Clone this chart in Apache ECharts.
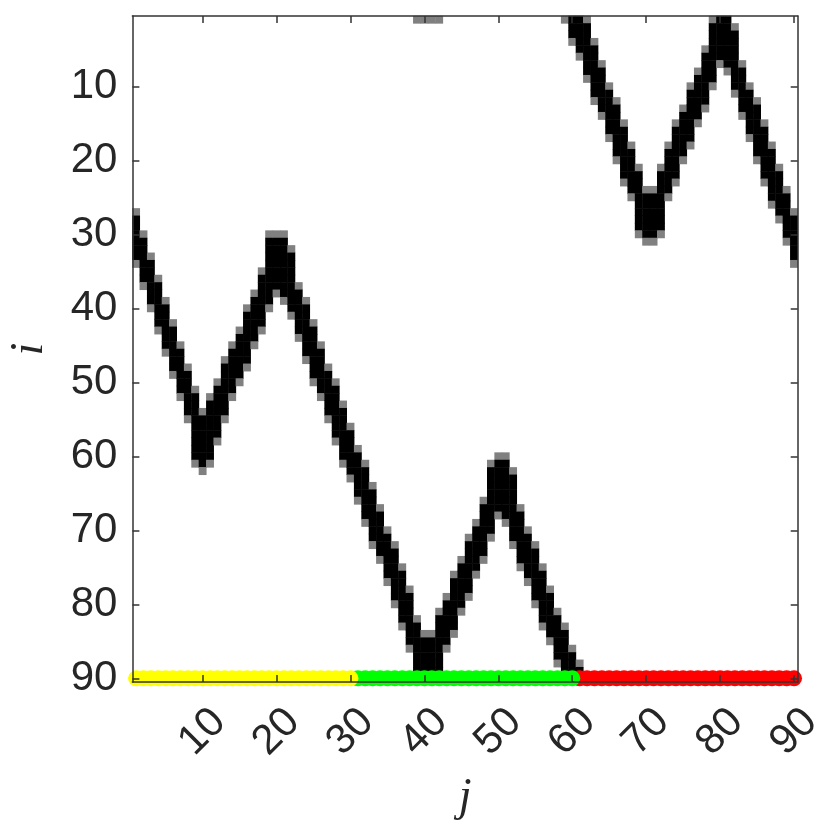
<!DOCTYPE html>
<html><head><meta charset="utf-8">
<script src="https://cdn.jsdelivr.net/npm/echarts@6/dist/echarts.min.js"></script>
<style>html,body{margin:0;padding:0;background:#fff}#c{width:830px;height:830px}</style>
</head><body><div id="c"></div>
<script>
// ---- data ----
const nCols = 90;
const nRows = 90;
const tickValues = [10, 20, 30, 40, 50, 60, 70, 80, 90];
// first and last dark row of the band in every column j = 1..90 (rows above 90 wrap to the top)
const bandTop = [
  28,31,34,37,40,43,46,49,52,55,
  53,51,48,46,44,41,39,36,31,31,
  31,33,38,40,43,46,49,51,54,57,
  60,62,65,68,71,73,76,79,83,85,
  85,82,80,77,75,72,70,67,62,61,
  61,63,68,71,73,76,79,82,84,87,
  89,92,95,98,101,103,106,109,112,115,
  115,112,109,106,104,101,99,96,92,91,
  91,93,98,101,103,106,109,112,115,118
];
const bandBottom = [
  33,36,39,42,45,48,51,54,60,61,
  60,57,54,51,49,47,44,42,39,37,
  38,40,43,46,49,51,54,57,60,62,
  65,68,71,73,76,79,82,85,90,90,
  90,90,85,83,80,78,75,73,70,67,
  68,71,74,76,79,82,84,87,90,93,
  95,98,101,103,106,109,112,114,119,120,
  120,119,114,112,109,107,104,102,99,96,
  97,100,103,106,109,112,115,117,120,123
];
const darkValue = 1;
const edgeValue = 0.5;
// marker row and colour groups
const markerRow = 90;
const groupFirst = [61, 31, 1];
const groupLast = [90, 60, 30];
const groupColors = ['#ff0000', '#00ff00', '#ffff00'];

// ---- build ----
const cats = [];
for (let k = 1; k <= nCols; k++) cats.push(String(k));
const cells = [];
for (let j = 1; j <= nCols; j++) {
  const t = bandTop[j - 1], b = bandBottom[j - 1];
  for (let r = t - 1; r <= b + 1; r++) {
    const v = (r < t || r > b) ? edgeValue : darkValue;
    const row = ((r - 1) % nRows + nRows) % nRows + 1;
    cells.push([j - 1, row - 1, v]);
  }
}
const textColor = '#262626';
const axisColor = '#333333';
const tickFn = function (idx) { return tickValues.indexOf(idx + 1) >= 0; };
const lineStyle = { color: axisColor, width: 1.5 };

const scatterSeries = groupFirst.map(function (f, g) {
  const d = [];
  for (let j = f; j <= groupLast[g]; j++) d.push([j - 1, markerRow - 1]);
  return {
    type: 'scatter', xAxisIndex: 0, yAxisIndex: 0, data: d,
    symbol: 'circle', symbolSize: 16, z: 3,
    itemStyle: { color: groupColors[g], opacity: 1 }
  };
});

const chart = echarts.init(document.getElementById('c'), null, { renderer: 'canvas' });
chart.setOption({
  animation: false,
  backgroundColor: '#ffffff',
  grid: { left: 132.4, right: 32.3, top: 16, bottom: 148, containLabel: false, outerBoundsMode: 'none' },
  visualMap: {
    show: false, type: 'continuous', min: 0, max: 1, seriesIndex: 0, dimension: 2,
    inRange: { color: ['#ffffff', '#000000'] }
  },
  xAxis: [{
    type: 'category', data: cats, position: 'bottom', z: 10,
    axisLine: { show: true, lineStyle: lineStyle },
    axisTick: { show: true, inside: true, length: 7, interval: tickFn, alignWithLabel: true, lineStyle: lineStyle },
    axisLabel: { show: true, interval: tickFn, rotate: 45, align: 'center', verticalAlign: 'middle',
      margin: 50, fontSize: 42, fontFamily: 'Liberation Sans', color: textColor },
    splitLine: { show: false },
    name: 'j', nameLocation: 'middle', nameGap: 93,
    nameTextStyle: { fontFamily: 'Liberation Serif', fontStyle: 'italic', fontSize: 46, color: textColor }
  }, {
    type: 'category', data: cats, position: 'top', z: 10,
    axisLine: { show: true, lineStyle: lineStyle },
    axisTick: { show: true, inside: true, length: 7, interval: tickFn, alignWithLabel: true, lineStyle: lineStyle },
    axisLabel: { show: false }, splitLine: { show: false }
  }],
  yAxis: [{
    type: 'category', data: cats, inverse: true, position: 'left', z: 10,
    axisLine: { show: true, lineStyle: lineStyle },
    axisTick: { show: true, inside: true, length: 7, interval: tickFn, alignWithLabel: true, lineStyle: lineStyle },
    axisLabel: { show: true, interval: tickFn, margin: 15, fontSize: 42, fontFamily: 'Liberation Sans', color: textColor },
    splitLine: { show: false },
    name: 'i', nameLocation: 'middle', nameRotate: 90, nameGap: 79,
    nameTextStyle: { fontFamily: 'Liberation Serif', fontStyle: 'italic', fontSize: 46, color: textColor }
  }, {
    type: 'category', data: cats, inverse: true, position: 'right', z: 10,
    axisLine: { show: true, lineStyle: lineStyle },
    axisTick: { show: true, inside: true, length: 7, interval: tickFn, alignWithLabel: true, lineStyle: lineStyle },
    axisLabel: { show: false }, splitLine: { show: false }
  }],
  series: [{
    type: 'heatmap', xAxisIndex: 0, yAxisIndex: 0, data: cells, z: 1,
    progressive: 0, emphasis: { disabled: true }
  }].concat(scatterSeries)
});
</script></body></html>
